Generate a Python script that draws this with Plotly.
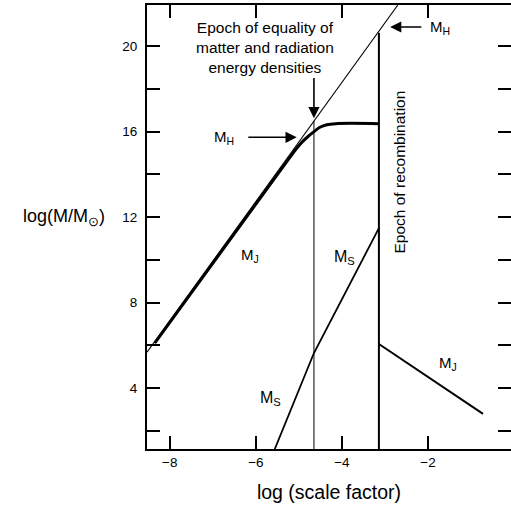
import plotly.graph_objects as go

FONT = "Liberation Sans, Arial, Helvetica, sans-serif"

# ---- data ----
horizon_x = [-8.53, -2.70]
horizon_y = [5.68, 21.92]

jeans_x = [-8.35, -5.21, -5.05, -4.91, -4.78, -4.67, -4.51, -4.35, -4.15, -3.14]
jeans_y = [6.10, 14.79, 15.22, 15.54, 15.78, 15.96, 16.20, 16.32, 16.37, 16.37]

ms_x = [-5.56, -4.65, -3.14]
ms_y = [1.15, 5.64, 11.48]

mj_late_x = [-3.14, -0.72]
mj_late_y = [6.06, 2.79]

equality_x = [-4.65, -4.65]
equality_y = [1.15, 16.50]

recomb_x = [-3.14, -3.14]
recomb_y = [1.15, 20.62]

x_range = [-8.53, -0.07]
y_range = [1.15, 21.92]
x_ticks = [-8, -6, -4, -2]
y_ticks = [2, 4, 6, 8, 10, 12, 14, 16, 18, 20]
y_ticklabels = ["", "4", "", "8", "", "12", "", "16", "", "20"]

fig = go.Figure()

def line(x, y, w, **kw):
    fig.add_trace(go.Scatter(x=x, y=y, mode="lines",
                             line=dict(color="black", width=w),
                             showlegend=False, hoverinfo="skip", **kw))

line(horizon_x, horizon_y, 1.1)
line(jeans_x, jeans_y, 3, line_shape="spline")
line(ms_x, ms_y, 1.8)
line(mj_late_x, mj_late_y, 2)
line(equality_x, equality_y, 1)
line(recomb_x, recomb_y, 2)
# invisible trace on the mirror axes so they are drawn
fig.add_trace(go.Scatter(x=horizon_x, y=horizon_y, xaxis="x2", yaxis="y2",
                         mode="lines", line=dict(width=0, color="rgba(0,0,0,0)"),
                         showlegend=False, hoverinfo="skip"))

ann = []
def label(x, y, text, size=15, **kw):
    ann.append(dict(x=x, y=y, xref="x", yref="y", text=text, showarrow=False,
                    font=dict(family=FONT, size=size, color="black"), **kw))

def arrow(tx, ty, ax, ay):
    ann.append(dict(x=tx, y=ty, ax=ax, ay=ay, xref="x", yref="y",
                    axref="x", ayref="y", text="", showarrow=True,
                    arrowhead=2, arrowsize=1.4, arrowwidth=1.6, arrowcolor="black"))

label(-5.79, 19.95, "Epoch of equality of<br>matter and radiation<br>energy densities", size=15.5)
arrow(-4.65, 16.62, -4.65, 18.58)
label(-6.74, 15.73, "M<sub>H</sub>")
arrow(-5.05, 15.73, -6.21, 15.73)
label(-1.72, 20.89, "M<sub>H</sub>")
arrow(-2.88, 20.89, -2.12, 20.89)
label(-6.14, 10.21, "M<sub>J</sub>")
label(-3.93, 10.12, "M<sub>S</sub>", size=16)
label(-5.67, 3.53, "M<sub>S</sub>", size=16)
label(-1.53, 5.17, "M<sub>J</sub>")
label(-2.67, 14.09, "Epoch of recombination", size=15.5, textangle=-90)
# y axis title (horizontal)
ann.append(dict(x=-0.11, y=12.0, xref="paper", yref="y", xanchor="right",
                text="log(M/M<sub>⊙</sub>)", showarrow=False,
                font=dict(family=FONT, size=18, color="black")))

axis_common = dict(showgrid=False, zeroline=False, ticks="inside", ticklen=13,
                   tickwidth=1.5, tickcolor="black")

fig.update_layout(
    width=511, height=509,
    margin=dict(l=147, r=0, t=5, b=60),
    paper_bgcolor="white", plot_bgcolor="white",
    font=dict(family=FONT, size=13, color="black"),
    xaxis=dict(range=x_range, tickvals=x_ticks, showline=True, linewidth=2,
               linecolor="black", tickfont=dict(size=13.5),
               title=dict(text="log (scale factor)", font=dict(size=19.5), standoff=16),
               **axis_common),
    xaxis2=dict(range=x_range, overlaying="x", side="top", tickvals=x_ticks,
                showticklabels=False, showline=True, linewidth=2, linecolor="black",
                **axis_common),
    yaxis=dict(range=y_range, tickvals=y_ticks, ticktext=y_ticklabels,
               showline=True, linewidth=2, linecolor="black", ticklabelstandoff=5,
               tickfont=dict(size=13.5), **axis_common),
    yaxis2=dict(range=y_range, overlaying="y", side="right", tickvals=y_ticks,
                showticklabels=False, showline=False, **axis_common),
    annotations=ann,
)

fig.write_html("out.html")
